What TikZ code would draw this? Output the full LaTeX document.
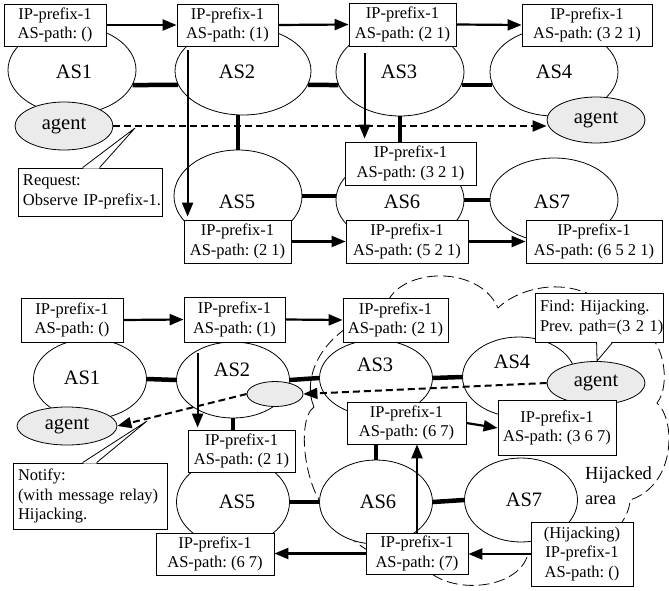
\documentclass[tikz,border=0pt]{standalone}
\usepackage{fontspec}
\setmainfont{Liberation Serif}
\usetikzlibrary{shapes.geometric,arrows.meta,calc}
\frenchspacing
\begin{document}
\begin{tikzpicture}[x=1pt,y=-1pt,
  asell/.style={ellipse,draw,line width=0.8pt,fill=white,inner sep=0pt},
  bigas/.style={asell,minimum width=128pt,minimum height=88pt},
  smallas/.style={asell,minimum width=113pt,minimum height=80pt},
  aslabel/.style={font=\fontsize{20.5}{24}\selectfont,inner sep=0pt},
  agent/.style={ellipse,draw,line width=0.8pt,fill=black!8,inner sep=0pt,
    font=\fontsize{20.5}{24}\selectfont},
  msg/.style={draw,line width=0.8pt,fill=white,inner sep=0pt,align=center,
    font=\fontsize{16.5}{19.5}\selectfont,minimum height=42pt},
  note/.style={draw,line width=0.8pt,fill=white,inner xsep=5pt,inner ysep=0pt,
    align=left,font=\fontsize{16.5}{19.5}\selectfont},
  link/.style={line width=4.5pt},
  arr/.style={line width=2.2pt,-{Triangle[length=14pt,width=11pt]}},
  ctrl/.style={line width=2pt,dash pattern=on 7pt off 4pt,
    -{Triangle[length=14pt,width=11pt]}},
  area/.style={line width=0.8pt,dash pattern=on 11pt off 5pt},
  wedge/.style={line width=0.8pt}
]
\useasboundingbox (0,0) rectangle (669,591);

% ---------- hijacked area outline ----------
\draw[area] (314,407) .. controls (302,380) and (318,330) .. (385,310)
  .. controls (392,268) and (478,262) .. (498,308)
  .. controls (520,286) and (585,268) .. (625,325)
  .. controls (665,325) and (672,385) .. (657,403)
  .. controls (676,420) and (676,485) .. (630,500)
  .. controls (628,540) and (560,570) .. (527,557)
  .. controls (515,590) and (450,595) .. (425,568)
  .. controls (385,565) and (350,545) .. (335,518)
  .. controls (305,500) and (295,420) .. (314,407);

% ---------- upper scenario: ASes ----------
\node[bigas] (AS1) at (72,70) {};
\node[bigas,minimum width=136pt] (AS2) at (243,71) {};
\node[bigas] (AS3) at (400,72) {};
\node[bigas] (AS4) at (554,72) {};
\node[bigas,minimum height=92pt] (AS5) at (238,196) {};
\node[bigas] (AS6) at (400,200) {};
\node[bigas,minimum height=84pt] (AS7) at (554,200) {};
\node[aslabel] (l1) at (74,72) {AS1};
\node[aslabel] (l2) at (237,72) {AS2};
\node[aslabel] (l3) at (399,72) {AS3};
\node[aslabel] (l4) at (554,72) {AS4};
\node[aslabel] (l5) at (237,202) {AS5};
\node[aslabel] (l6) at (402,202) {AS6};
\node[aslabel] (l7) at (552,202) {AS7};

\draw[link] (AS1.-14) -- (AS2.192);
\draw[link] (AS2.-12) -- (AS3.192);
\draw[link] (AS3.-12) -- (AS4.192);
\draw[link] (AS5.north) -- (AS5.north |- AS2.south);
\draw[link] (AS5.east) -- (AS5.east -| AS6.west);
\draw[link] (AS6.east) -- (AS6.east -| AS7.west);

\node[agent,minimum width=98pt,minimum height=48pt] (ag1) at (64,126) {agent};
\node[agent,minimum width=98pt,minimum height=46pt] (ag2) at (596,120) {agent};

% ---------- upper scenario: announcements ----------
\node[msg,minimum width=102pt] (t1) at (55,25) {IP-prefix-1\\AS-path: ()};
\node[msg,minimum width=101pt] (t2) at (227.5,25) {IP-prefix-1\\AS-path: (1)};
\node[msg,minimum width=107pt,minimum height=43pt] (t3) at (402.5,24.5) {IP-prefix-1\\AS-path: (2 1)};
\node[msg,minimum width=130pt] (t4) at (587,25) {IP-prefix-1\\AS-path: (3 2 1)};
\node[msg,minimum width=131pt,minimum height=43pt] (t5) at (410.5,163.5) {IP-prefix-1\\AS-path: (3 2 1)};
\draw[link] (AS3.south) -- (AS3.south |- t5.north);
\node[msg,minimum width=107pt,minimum height=43pt] (t6) at (237.5,241.5) {IP-prefix-1\\AS-path: (2 1)};
\node[msg,minimum width=122pt,minimum height=43pt] (t7) at (407,241.5) {IP-prefix-1\\AS-path: (5 2 1)};
\node[msg,minimum width=136pt,minimum height=43pt] (t8) at (594,241.5) {IP-prefix-1\\AS-path: (6 5 2 1)};

\draw[arr] (t1.east) -- (t2.west);
\draw[arr] (t2.east) -- (t3.west);
\draw[arr] (t3.east) -- (t4.west);
\draw[arr] ($(t2.south west)+(11,4)$) -- ($(t6.north west)+(4,-3)$);
\draw[arr] ($(t3.south west)+(16,7)$) -- ($(t5.north west)+(20,-3)$);
\draw[arr] (t6.east) -- (t7.west);
\draw[arr] (t7.east) -- (t8.west);

% request callout
\node[note,text width=134pt,minimum height=48pt] (req) at (90,192)
  {\mbox{Request:}\\\mbox{Observe IP-prefix-1.}};
\coordinate (rtip) at (135,128);
\fill[white] ($(req.north west)+(65.5,1)$) -- (rtip) -- ($(req.north west)+(81.5,1)$) -- cycle;
\draw[wedge] ($(req.north west)+(65,0)$) -- (rtip) -- ($(req.north west)+(82,0)$);

\draw[ctrl] (ag1.east) -- (ag1.east -| ag2.west);

% ---------- lower scenario: ASes ----------
\node[smallas] (AS1b) at (90,379) {};
\node[smallas,minimum height=76pt] (AS2b) at (233,380) {};
\node[smallas,minimum height=76pt] (AS3b) at (376,378) {};
\node[smallas] (AS4b) at (519,377) {};
\node[smallas,minimum height=88pt] (AS5b) at (233,502) {};
\node[smallas,minimum height=84pt] (AS6b) at (376,502) {};
\node[smallas,minimum height=84pt] (AS7b) at (521,500) {};
\node[aslabel] (l1b) at (82,378) {AS1};
\node[aslabel] (l2b) at (232,370) {AS2};
\node[aslabel] (l3b) at (375,365) {AS3};
\node[aslabel] (l4b) at (512,362) {AS4};
\node[aslabel] (l5b) at (237,502) {AS5};
\node[aslabel] (l6b) at (378,502) {AS6};
\node[aslabel] (l7b) at (524,500) {AS7};

\draw[link] (AS1b.east) -- (AS2b.west);
\draw[link] (AS2b.east) -- (AS3b.west);
\draw[link] (AS3b.east) -- (AS4b.west);
\draw[link] (AS5b.east) -- (AS6b.west);
\draw[link] (AS6b.east) -- (AS7b.west);

\node[agent,minimum width=100pt,minimum height=38pt] (agb1) at (67,426) {agent};
\node[agent,minimum width=98pt,minimum height=43pt] (agb2) at (596,383) {agent};
\node[agent,minimum width=56pt,minimum height=25pt] (ags) at (275,394) {};

\node[font=\fontsize{18.5}{25}\selectfont,align=left,inner sep=0pt,anchor=north west]
  (hij) at (585,466) {Hijacked\\area};

% ---------- lower scenario: announcements ----------
\node[msg,minimum width=102pt,minimum height=44pt] (b1) at (72,320) {IP-prefix-1\\AS-path: ()};
\node[msg,minimum width=101pt,minimum height=45pt] (b2) at (234.5,319.5) {IP-prefix-1\\AS-path: (1)};
\node[msg,minimum width=105pt,minimum height=44pt] (b3) at (395.5,320) {IP-prefix-1\\AS-path: (2 1)};
\node[msg,minimum width=107pt] (b4) at (241.5,451) {IP-prefix-1\\AS-path: (2 1)};
\node[msg,minimum width=119pt] (b5) at (406.5,423) {IP-prefix-1\\AS-path: (6 7)};
\node[msg,minimum width=118pt,minimum height=55pt] (b6) at (557,428) {IP-prefix-1\\AS-path: (3 6 7)};
\node[msg,minimum width=118pt] (b7) at (215,554) {IP-prefix-1\\AS-path: (6 7)};
\node[msg,minimum width=102pt,minimum height=41pt] (b8) at (417,553.5) {IP-prefix-1\\AS-path: (7)};
\node[msg,minimum width=102pt,minimum height=64pt] (b9) at (582,554) {(Hijacking)\\IP-prefix-1\\AS-path: ()};

\draw[link] (AS2b.south) -- (AS2b.south |- b4.north);
\draw[link] (AS6b.north) -- (AS6b.north |- b5.south);

\draw[arr] (b1.east) -- (b2.west);
\draw[arr] (b2.east) -- (b3.west);
\draw[arr] ($(b2.south west)+(14,11)$) -- ($(b4.north west)+(10,-2)$);
\draw[arr] (b5.east) -- (b6.west);
\draw[arr] (b8.north) -- (b8.north |- b5.south);
\draw[arr] (b9.west) -- (b9.west -| b8.east);
\draw[arr] (b8.west) -- (b8.west -| b7.east);

% find callout
\node[note,text width=118pt,minimum height=49pt] (find) at (599,317.5)
  {\mbox{Find: Hijacking.}\\\mbox{Prev. path=(3 2 1)}};
\coordinate (ftip) at (597,361);
\fill[white] ($(find.south west)+(62.5,-1)$) -- (ftip) -- ($(find.south west)+(77.5,-1)$) -- cycle;
\draw[wedge] ($(find.south west)+(62,0)$) -- (ftip) -- ($(find.south west)+(78,0)$);

% notify callout
\node[note,text width=144pt,minimum height=66pt] (notify) at (90,496)
  {\mbox{Notify:}\\\mbox{(with message relay)}\\\mbox{Hijacking.}};
\coordinate (ntip) at (147,421);
\fill[white] ($(notify.north west)+(70.5,1)$) -- (ntip) -- ($(notify.north west)+(83.5,1)$) -- cycle;
\draw[wedge] ($(notify.north west)+(70,0)$) -- (ntip) -- ($(notify.north west)+(84,0)$);

\draw[ctrl] (agb2.west) -- (ags.east);
\draw[ctrl] (ags.west) -- (agb1.east);
\end{tikzpicture}
\end{document}
